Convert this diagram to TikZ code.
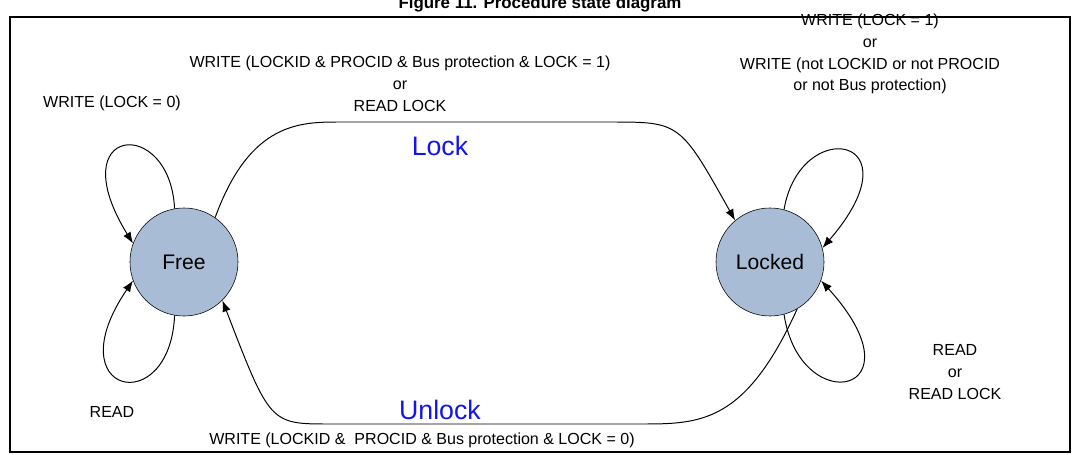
\documentclass[tikz,border=0pt]{standalone}
\usepackage{fontspec}
\setmainfont{Liberation Sans}
\usetikzlibrary{arrows.meta}
\definecolor{statefill}{RGB}{169, 188, 214}
\definecolor{labelblue}{RGB}{20, 20, 235}

\begin{document}
\begin{tikzpicture}[x=0.025cm, y=-0.025cm,
    state/.style={draw, circle, fill=statefill, minimum size=2.7cm, inner sep=0pt, font=\fontsize{15}{17}\selectfont},
    lbl/.style={font=\fontsize{11.4}{15.5}\selectfont, align=center, inner sep=0pt},
    big/.style={text=labelblue, font=\fontsize{19}{21}\selectfont, inner sep=0pt},
    trans/.style={-{Latex[length=8pt, width=6pt]}, line width=0.7pt}]
    \useasboundingbox (0,0) rectangle (1079,454);
    \node[font=\bfseries\fontsize{12}{14}\selectfont] (title) at (540,4) {Figure 11. Procedure state diagram};
    \draw[line width=0.9pt] (10,17) rectangle (1070,452);
    
    \node[state] (free) at (184,262) {Free};
    \node[state] (locked) at (770,262) {Locked};
    
    % lock / unlock transitions
    \draw[trans] (free.55) .. controls (250,122) and (300,122) .. (340,122) -- (610,122)
        .. controls (680,122) .. (locked.130);
    \draw[trans] (locked.-60) .. controls (745,424) and (700,424) .. (640,424) -- (330,424)
        .. controls (270,424) .. (free.-45);
    
    % self loops
    \draw[trans] (free.100) .. controls (170,115) and (60,125) .. (free.160);
    \draw[trans] (free.-100) .. controls (170,420) and (55,395) .. (free.-160);
    \draw[trans] (locked.75) .. controls (800,115) and (920,135) .. (locked.15);
    \draw[trans] (locked.-75) .. controls (800,420) and (925,395) .. (locked.-20);
    
    \node[lbl] (locktxt) at (400,84) {WRITE (LOCKID \& PROCID \& Bus protection \& LOCK = 1)\\or\\READ LOCK};
    \node[big] (lock) at (440,146) {Lock};
    \node[big] (unlock) at (440,410) {Unlock};
    \node[lbl] (unlocktxt) at (422,440) {WRITE (LOCKID \&\ \ PROCID \& Bus protection \& LOCK = 0)};
    \node[lbl] (free0) at (112,103) {WRITE (LOCK = 0)};
    \node[lbl] (freeread) at (112,412) {READ};
    \node[lbl] (lockw) at (870,54) {WRITE (LOCK = 1)\\or\\WRITE (not LOCKID or not PROCID\\or not Bus protection)};
    \node[lbl] (lockr) at (955,372) {READ\\or\\READ LOCK};
\end{tikzpicture}
\end{document}
